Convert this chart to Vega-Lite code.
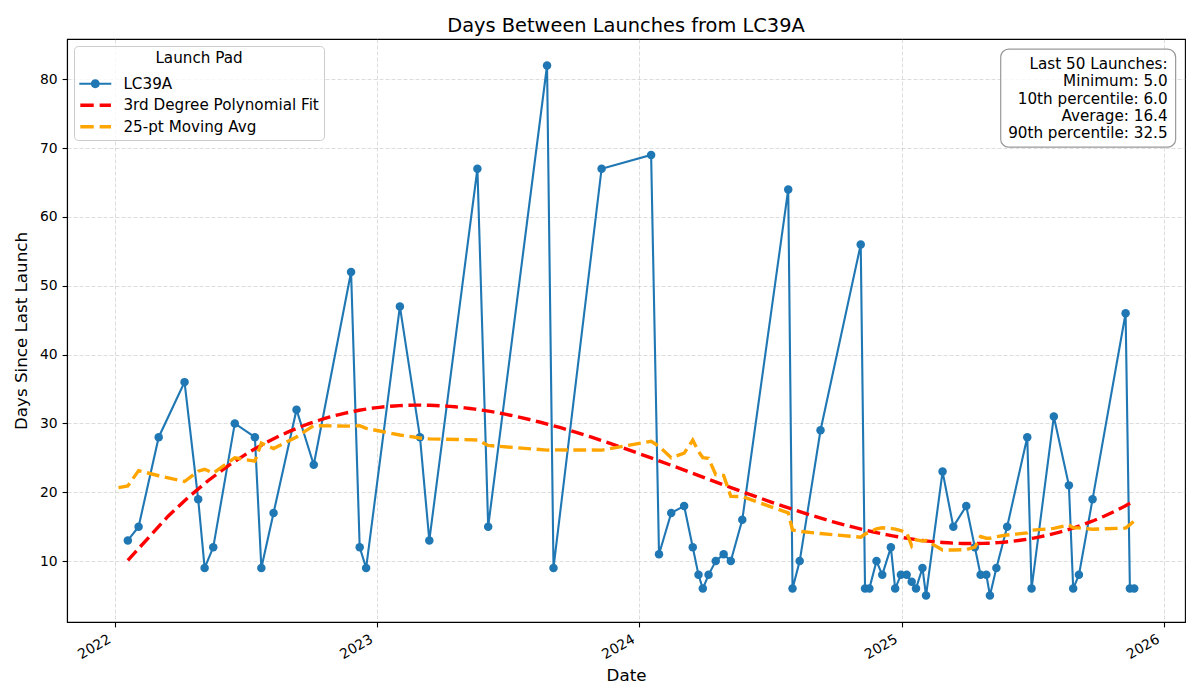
{
  "$schema": "https://vega.github.io/schema/vega-lite/v6.json",
  "width": 1118,
  "height": 583,
  "autosize": {"type": "none"},
  "padding": {"left": 67, "top": 39, "right": 15, "bottom": 78},
  "background": "white",
  "title": {"text": "Days Between Launches from LC39A", "fontSize": 19.4, "font": "DejaVu Sans", "fontWeight": "normal", "color": "black", "anchor": "middle", "offset": 3},
  "datasets": {
    "launches": [
      {"date": "2022-01-06", "days": null},
      {"date": "2022-01-19", "days": 13},
      {"date": "2022-02-03", "days": 15},
      {"date": "2022-03-03", "days": 28},
      {"date": "2022-04-08", "days": 36},
      {"date": "2022-04-27", "days": 19},
      {"date": "2022-05-06", "days": 9},
      {"date": "2022-05-18", "days": 12},
      {"date": "2022-06-17", "days": 30},
      {"date": "2022-07-15", "days": 28},
      {"date": "2022-07-24", "days": 9},
      {"date": "2022-08-10", "days": 17},
      {"date": "2022-09-11", "days": 32},
      {"date": "2022-10-05", "days": 24},
      {"date": "2022-11-26", "days": 52},
      {"date": "2022-12-08", "days": 12},
      {"date": "2022-12-17", "days": 9},
      {"date": "2023-02-02", "days": 47},
      {"date": "2023-03-02", "days": 28},
      {"date": "2023-03-15", "days": 13},
      {"date": "2023-05-21", "days": 67},
      {"date": "2023-06-05", "days": 15},
      {"date": "2023-08-26", "days": 82},
      {"date": "2023-09-04", "days": 9},
      {"date": "2023-11-10", "days": 67},
      {"date": "2024-01-18", "days": 69},
      {"date": "2024-01-29", "days": 11},
      {"date": "2024-02-15", "days": 17},
      {"date": "2024-03-04", "days": 18},
      {"date": "2024-03-16", "days": 12},
      {"date": "2024-03-24", "days": 8},
      {"date": "2024-03-30", "days": 6},
      {"date": "2024-04-07", "days": 8},
      {"date": "2024-04-17", "days": 10},
      {"date": "2024-04-28", "days": 11},
      {"date": "2024-05-08", "days": 10},
      {"date": "2024-05-24", "days": 16},
      {"date": "2024-07-27", "days": 64},
      {"date": "2024-08-02", "days": 6},
      {"date": "2024-08-12", "days": 10},
      {"date": "2024-09-10", "days": 29},
      {"date": "2024-11-05", "days": 56},
      {"date": "2024-11-11", "days": 6},
      {"date": "2024-11-17", "days": 6},
      {"date": "2024-11-27", "days": 10},
      {"date": "2024-12-05", "days": 8},
      {"date": "2024-12-17", "days": 12},
      {"date": "2024-12-23", "days": 6},
      {"date": "2024-12-31", "days": 8},
      {"date": "2025-01-08", "days": 8},
      {"date": "2025-01-15", "days": 7},
      {"date": "2025-01-21", "days": 6},
      {"date": "2025-01-30", "days": 9},
      {"date": "2025-02-04", "days": 5},
      {"date": "2025-02-27", "days": 23},
      {"date": "2025-03-14", "days": 15},
      {"date": "2025-04-01", "days": 18},
      {"date": "2025-04-13", "days": 12},
      {"date": "2025-04-21", "days": 8},
      {"date": "2025-04-29", "days": 8},
      {"date": "2025-05-04", "days": 5},
      {"date": "2025-05-13", "days": 9},
      {"date": "2025-05-28", "days": 15},
      {"date": "2025-06-25", "days": 28},
      {"date": "2025-07-01", "days": 6},
      {"date": "2025-08-01", "days": 31},
      {"date": "2025-08-22", "days": 21},
      {"date": "2025-08-28", "days": 6},
      {"date": "2025-09-05", "days": 8},
      {"date": "2025-09-24", "days": 19},
      {"date": "2025-11-09", "days": 46},
      {"date": "2025-11-15", "days": 6},
      {"date": "2025-11-21", "days": 6}
    ],
    "stats": [
      {"note": "Last 50 Launches:\nMinimum: 5.0\n10th percentile: 6.0\nAverage: 16.4\n90th percentile: 32.5"}
    ]
  },
  "layer": [
    {
      "data": {"name": "launches"},
      "transform": [{"filter": "isValid(datum.days)"}],
      "mark": {"type": "line", "strokeWidth": 2.1, "point": {"filled": true, "size": 72, "opacity": 1}},
      "encoding": {
        "x": {
          "field": "date",
          "type": "temporal",
          "title": "Date",
          "scale": {
            "type": "utc",
            "domain": [
              {"year": 2021, "month": 10, "date": 26, "hours": 6, "utc": true},
              {"year": 2026, "month": 1, "date": 30, "hours": 18, "utc": true}
            ]
          },
          "axis": {
            "values": [
              {"year": 2022, "month": 1, "date": 1, "utc": true},
              {"year": 2023, "month": 1, "date": 1, "utc": true},
              {"year": 2024, "month": 1, "date": 1, "utc": true},
              {"year": 2025, "month": 1, "date": 1, "utc": true},
              {"year": 2026, "month": 1, "date": 1, "utc": true}
            ],
            "format": "%Y",
            "labelAngle": -30,
            "labelAlign": "right",
            "labelBaseline": "top",
            "labelOffset": -9,
            "titlePadding": 6
          }
        },
        "y": {
          "field": "days",
          "type": "quantitative",
          "title": "Days Since Last Launch",
          "scale": {"domain": [1.15, 85.85], "nice": false, "zero": false},
          "axis": {"values": [10, 20, 30, 40, 50, 60, 70, 80], "titlePadding": 9}
        },
        "color": {
          "datum": "LC39A",
          "scale": {
            "domain": ["LC39A", "3rd Degree Polynomial Fit", "25-pt Moving Avg"],
            "range": ["#1f77b4", "#ff0000", "#ffa500"]
          },
          "legend": {
            "title": "Launch Pad",
            "orient": "top-left",
            "offset": 7,
            "encode": {
              "symbols": {
                "update": {
                  "shape": {"signal": "datum.value === 'LC39A' ? 'M-1.43,-0.094H1.43V0.094H-1.43Z M-0.4,0A0.4,0.4,0,1,1,0.4,0A0.4,0.4,0,1,1,-0.4,0Z' : 'M-1.34,-0.16H-0.14V0.16H-1.34Z M0.39,-0.16H1.4V0.16H0.39Z'"},
                  "fill": {"scale": "color", "field": "value"},
                  "stroke": {"value": "transparent"},
                  "strokeWidth": {"value": 0},
                  "opacity": {"value": 1}
                }
              }
            }
          }
        }
      }
    },
    {
      "data": {"name": "launches"},
      "transform": [
        {"filter": "isValid(datum.days)"},
        {"regression": "days", "on": "date", "method": "poly", "order": 3}
      ],
      "mark": {"type": "line", "strokeWidth": 3.4, "strokeDash": [12.8, 5.6]},
      "encoding": {
        "x": {"field": "date", "type": "temporal"},
        "y": {"field": "days", "type": "quantitative"},
        "color": {"datum": "3rd Degree Polynomial Fit"}
      }
    },
    {
      "data": {"name": "launches"},
      "transform": [
        {"window": [{"op": "mean", "field": "days", "as": "ma"}], "frame": [-12, 12], "sort": [{"field": "date"}]}
      ],
      "mark": {"type": "line", "strokeWidth": 3.4, "strokeDash": [12.8, 5.6]},
      "encoding": {
        "x": {"field": "date", "type": "temporal"},
        "y": {"field": "ma", "type": "quantitative"},
        "color": {"datum": "25-pt Moving Avg"}
      }
    },
    {
      "data": {"name": "stats"},
      "mark": {"type": "rect", "fill": "white", "fillOpacity": 0.8, "stroke": "#999999", "strokeWidth": 1.2, "cornerRadius": 8},
      "encoding": {
        "x": {"datum": {"year": 2025, "month": 5, "date": 19, "utc": true}, "type": "temporal"},
        "x2": {"datum": {"year": 2026, "month": 1, "date": 17, "hours": 17, "utc": true}},
        "y": {"datum": 84.37, "type": "quantitative"},
        "y2": {"datum": 70.14}
      }
    },
    {
      "data": {"name": "stats"},
      "mark": {"type": "text", "align": "right", "baseline": "middle", "lineBreak": "\n", "lineHeight": 17.3, "font": "DejaVu Sans", "fontSize": 15.2, "color": "black"},
      "encoding": {
        "x": {"datum": {"year": 2026, "month": 1, "date": 6, "hours": 12, "utc": true}, "type": "temporal"},
        "y": {"datum": 82.2, "type": "quantitative"},
        "text": {"field": "note"}
      }
    }
  ],
  "config": {
    "font": "DejaVu Sans",
    "view": {"stroke": "black", "strokeWidth": 1.1},
    "axis": {
      "labelFont": "DejaVu Sans",
      "labelFontSize": 13.9,
      "labelColor": "black",
      "titleFont": "DejaVu Sans",
      "titleFontSize": 16.7,
      "titleFontWeight": "normal",
      "titleColor": "black",
      "domainColor": "black",
      "domainWidth": 1.1,
      "tickColor": "black",
      "tickWidth": 1.1,
      "tickSize": 4.9,
      "labelPadding": 4.9,
      "grid": true,
      "gridColor": "#b0b0b0",
      "gridOpacity": 0.55,
      "gridDash": [4, 2],
      "gridWidth": 0.8
    },
    "legend": {
      "titleFont": "DejaVu Sans",
      "titleFontSize": 15.2,
      "titleFontWeight": "normal",
      "titleColor": "black",
      "titleAnchor": "middle",
      "titlePadding": 6,
      "labelFont": "DejaVu Sans",
      "labelFontSize": 15.2,
      "labelColor": "black",
      "labelOffset": 16.6,
      "labelLimit": 0,
      "symbolSize": 500,
      "symbolOffset": 4.8,
      "rowPadding": 1.5,
      "padding": 5,
      "fillColor": "rgba(255,255,255,0.8)",
      "strokeColor": "#cccccc",
      "cornerRadius": 4
    }
  }
}
